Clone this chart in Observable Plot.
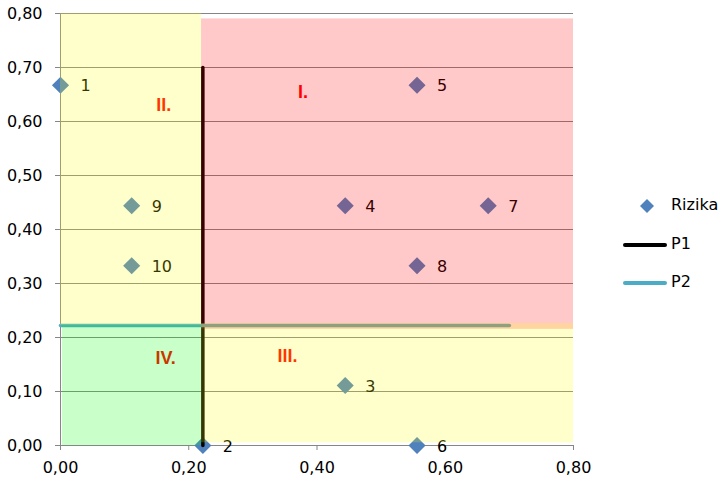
<!DOCTYPE html>
<html>
<head>
<meta charset="utf-8">
<script src="https://cdn.jsdelivr.net/npm/d3@7"></script>
<script src="https://cdn.jsdelivr.net/npm/@observablehq/plot@0.6"></script>
<style>
  html, body { margin: 0; padding: 0; background: #fff; }
  #wrap { position: relative; width: 723px; height: 488px; font-family: "DejaVu Sans", sans-serif; }
  #legend { position: absolute; left: 620px; top: 194px; font-size: 16px; color: #000; }
  .row { position: absolute; left: 0; height: 24px; width: 103px; }
  .row span { position: absolute; left: 51px; top: 1px; white-space: nowrap; }
</style>
</head>
<body>
<div id="wrap"></div>
<script>
// Data
const ids = ["1", "2", "3", "4", "5", "6", "7", "8", "9", "10"];
const xs  = [0.000, 0.222, 0.444, 0.444, 0.556, 0.556, 0.667, 0.556, 0.111, 0.111];
const ys  = [0.667, 0.000, 0.111, 0.444, 0.667, 0.000, 0.444, 0.333, 0.444, 0.333];

const p1x = [0.222, 0.222];
const p1y = [0.000, 0.700];
const p2x = [0.000, 0.700];
const p2y = [0.222, 0.222];

const quadNames = ["I.", "II.", "III.", "IV."];
const quadX = [0.378, 0.161, 0.354, 0.164];
const quadY = [0.654, 0.631, 0.165, 0.161];

const zoneX1 = [0.000, 0.220, 0.220, 0.003];
const zoneX2 = [0.220, 0.800, 0.800, 0.220];
const zoneY1 = [0.222, 0.215, 0.005, 0.000];
const zoneY2 = [0.800, 0.790, 0.226, 0.222];
const zoneColors = ["#ffff0c", "#ff0000", "#ffff0c", "#00ff00"];

const xTicks = [0, 0.2, 0.4, 0.6, 0.8];
const yTicks = [0, 0.1, 0.2, 0.3, 0.4, 0.5, 0.6, 0.7, 0.8];

const legendNames = ["Rizika", "P1", "P2"];
const seriesColors = ["#4f81bd", "#000000", "#4bacc6"];

// Tables
const points = ids.map((id, i) => ({id, x: xs[i], y: ys[i]}));
const p1 = p1x.map((x, i) => ({x, y: p1y[i]}));
const p2 = p2x.map((x, i) => ({x, y: p2y[i]}));
const quads = quadNames.map((n, i) => ({n, x: quadX[i], y: quadY[i]}));
const zones = zoneColors.map((c, i) => ({c, x1: zoneX1[i], x2: zoneX2[i], y1: zoneY1[i], y2: zoneY2[i]}));
const fmt = d => d.toFixed(2).replace(".", ",");
const font = "DejaVu Sans, sans-serif";

const chart = Plot.plot({
  width: 723, height: 488,
  marginLeft: 60, marginRight: 150, marginTop: 13, marginBottom: 43,
  style: {fontFamily: font, fontSize: "16px", background: "transparent", color: "#000"},
  x: {domain: [0, 0.8], label: null},
  y: {domain: [0, 0.8], label: null},
  marks: [
    Plot.ruleY(yTicks, {x1: 0, x2: 0.8, stroke: "#868686", strokeWidth: 1}),
    Plot.ruleX([0], {stroke: "#868686", strokeWidth: 1}),
    Plot.axisY({ticks: yTicks, tickFormat: fmt, tickSize: 5, tickPadding: 13, stroke: "#868686", fill: "#000", fontSize: 16, label: null}),
    Plot.axisX({ticks: xTicks, tickFormat: fmt, tickSize: 5, tickPadding: 11, stroke: "#868686", fill: "#000", fontSize: 16, label: null}),
    Plot.dot(points, {x: "x", y: "y", symbol: "diamond2", r: 7.7, fill: seriesColors[0], stroke: "none"}),
    Plot.line(p1, {x: "x", y: "y", stroke: seriesColors[1], strokeWidth: 3.5}),
    Plot.line(p2, {x: "x", y: "y", stroke: seriesColors[2], strokeWidth: 3.5}),
    Plot.text(points, {x: "x", y: "y", text: "id", dx: 20, dy: 1, textAnchor: "start", fill: "#000", fontSize: 16}),
    Plot.text(quads, {x: "x", y: "y", text: "n", fill: "#ff0000", fontSize: 18, fontWeight: "bold", fontFamily: "Liberation Sans, sans-serif"}),
    Plot.rect(zones, {x1: "x1", x2: "x2", y1: "y1", y2: "y2", fill: "c", fillOpacity: 0.21})
  ]
});
chart.style.position = "absolute";
chart.style.left = "0px";
chart.style.top = "0px";
const wrap = document.getElementById("wrap");
wrap.appendChild(chart);

// Legend
const legend = document.createElement("div");
legend.id = "legend";
const ns = "http://www.w3.org/2000/svg";
legendNames.forEach((name, i) => {
  const row = document.createElement("div");
  row.className = "row";
  row.style.top = (i * 38.5) + "px";
  const svg = document.createElementNS(ns, "svg");
  svg.setAttribute("width", "50"); svg.setAttribute("height", "24");
  svg.style.position = "absolute"; svg.style.left = "0"; svg.style.top = "0";
  if (i === 0) {
    const p = document.createElementNS(ns, "path");
    p.setAttribute("d", "M27,5 L34,12 L27,19 L20,12 Z");
    p.setAttribute("fill", seriesColors[i]);
    svg.appendChild(p);
  } else {
    const l = document.createElementNS(ns, "line");
    l.setAttribute("x1", "5"); l.setAttribute("x2", "45");
    l.setAttribute("y1", "12"); l.setAttribute("y2", "12");
    l.setAttribute("stroke", seriesColors[i]); l.setAttribute("stroke-width", "4");
    l.setAttribute("stroke-linecap", "round");
    svg.appendChild(l);
  }
  row.appendChild(svg);
  const t = document.createElement("span");
  t.textContent = name;
  row.appendChild(t);
  legend.appendChild(row);
});
wrap.appendChild(legend);
</script>
</body>
</html>
